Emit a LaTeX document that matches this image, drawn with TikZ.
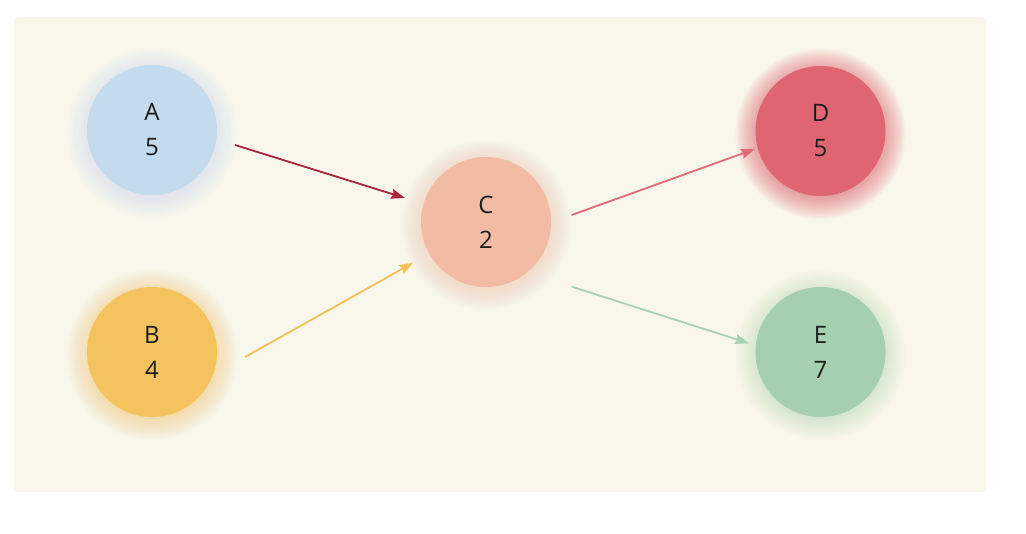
\documentclass[tikz,border=0pt]{standalone}
\usepackage{fontspec}
\setmainfont{Open Sans}
\usetikzlibrary{arrows.meta}
\definecolor{bgc}{HTML}{F9F7EC}
\definecolor{cA}{HTML}{C3DBEC}
\definecolor{cB}{HTML}{F4C35E}
\definecolor{cC}{HTML}{F2BBA3}
\definecolor{cD}{HTML}{E06573}
\definecolor{cE}{HTML}{A5D0AF}
\definecolor{aA}{HTML}{A8243A}
\definecolor{aB}{HTML}{F2C15A}
\definecolor{aD}{HTML}{E26A78}
\definecolor{aE}{HTML}{A8D3B3}
\definecolor{txt}{HTML}{1C1C1C}
\tikzset{
  ball/.style={circle, minimum size=130pt, inner sep=0pt, outer sep=0pt, fill=#1,
    text=txt, align=center, font=\fontsize{24}{35}\selectfont},
  link/.style={draw=#1, fill=#1, line width=1.8pt, -{Stealth[length=14pt,width=10pt,inset=2pt]}},
}
\begin{document}
\begin{tikzpicture}[x=1pt,y=-1pt]
\useasboundingbox (0,0) rectangle (1026,534);
\fill[white] (0,0) rectangle (1026,534);
\fill[bgc, rounded corners=4pt] (14,17) rectangle (986,492);
% glows
\foreach \c/\x/\y/\o in {cA/152/130/0.022, cB/152/352/0.028, cC/486/222/0.025, cD/820.5/131/0.045, cE/820.5/352/0.025} {
  \foreach \k in {1,...,18} {
    \fill[\c, opacity=\o] (\x,\y+3) circle ({62+\k*1.3});
  }
}
\node[ball=cA] (A) at (152,130) {A\\5};
\node[ball=cB] (B) at (152,352) {B\\4};
\node[ball=cC] (C) at (486,222) {C\\2};
\node[ball=cD] (D) at (820.5,131) {D\\5};
\node[ball=cE] (E) at (820.5,352) {E\\7};
\draw[link=aA] ([shift={(83,15)}]A.center) -- ([shift={(-81,-24)}]C.center);
\draw[link=aB] ([shift={(93,5)}]B.center) -- ([shift={(-72.7,40.7)}]C.center);
\draw[link=aD] ([shift={(85.7,-7)}]C.center) -- ([shift={(-65.5,18)}]D.center);
\draw[link=aE] ([shift={(85.7,64.7)}]C.center) -- ([shift={(-71.5,-8.7)}]E.center);
\end{tikzpicture}
\end{document}
